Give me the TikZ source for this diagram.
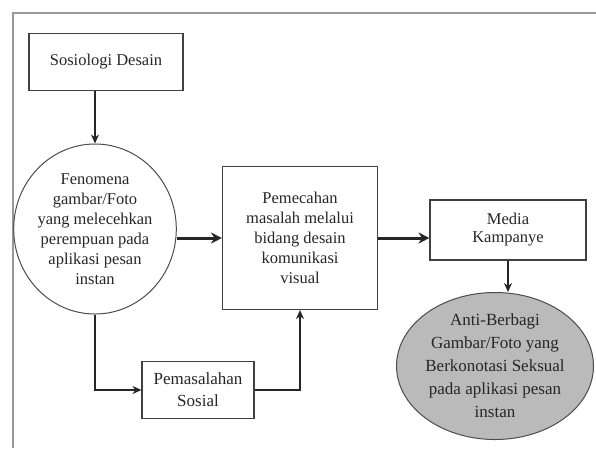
\documentclass[tikz,border=0pt]{standalone}
\usepackage{fontspec}
\setmainfont{Liberation Serif}
\usepackage{tikz}
\usetikzlibrary{shapes.geometric}
\usetikzlibrary{arrows.meta}
\usetikzlibrary{positioning}
\begin{document}
\begin{tikzpicture}[x=1pt,y=-1pt,
  kotak/.style={draw=black!75,line width=1.1pt,align=center,inner sep=0pt,text=black!85,font=\fontsize{16.5}{20}\selectfont},
  bulat/.style={ellipse,draw=black!70,line width=1pt,align=center,inner sep=0pt,text=black!85,font=\fontsize{16.5}{20}\selectfont},
  panah/.style={-{Stealth[length=9pt,width=8pt]},line width=2pt,draw=black!85},
  panahtebal/.style={-{Stealth[length=11pt,width=11pt]},line width=3pt,draw=black!85}]
  \useasboundingbox (0,0) rectangle (596,448);
  % bingkai luar
  \draw[line width=2pt,draw=black!40] (13,448) -- (13,13) -- (596,13);
  \node[kotak,minimum width=154pt,minimum height=57pt] (sos) at (106,62) {Sosiologi Desain};
  \node[bulat,minimum width=150pt,minimum height=170pt] (fen) at (95,229) {Fenomena\\gambar/Foto\\yang melecehkan\\perempuan pada\\aplikasi pesan\\instan};
  \node[kotak,minimum width=155pt,minimum height=143pt] (pem) at (300,238) {Pemecahan\\masalah melalui\\bidang desain\\komunikasi\\visual};
  \node[kotak,minimum width=112pt,minimum height=57pt,font=\fontsize{17}{22}\selectfont] (pms) at (198,390) {Pemasalahan\\Sosial};
  \node[kotak,minimum width=156pt,minimum height=60pt,font=\fontsize{16.5}{18}\selectfont] (med) at (508,230) {Media\\Kampanye};
  \node[bulat,fill=black!27,minimum width=196pt,minimum height=147pt,font=\fontsize{17}{23}\selectfont] (anti) at (495,366) {Anti-Berbagi\\Gambar/Foto yang\\Berkonotasi Seksual\\pada aplikasi pesan\\instan};
  % alur
  \draw[panah] (sos.south -| fen.north) -- (fen.north);
  \draw[panahtebal] (fen.east |- pem.west) -- (pem.west);
  \draw[panahtebal] (pem.east) -- (pem.east -| med.west);
  \draw[panah] (med.south) -- (med.south |- anti.north);
  \draw[panah] (fen.south) -- (fen.south |- pms.west) -- (pms.west);
  \draw[panah] (pms.east) -| (pem.south);
\end{tikzpicture}
\end{document}
